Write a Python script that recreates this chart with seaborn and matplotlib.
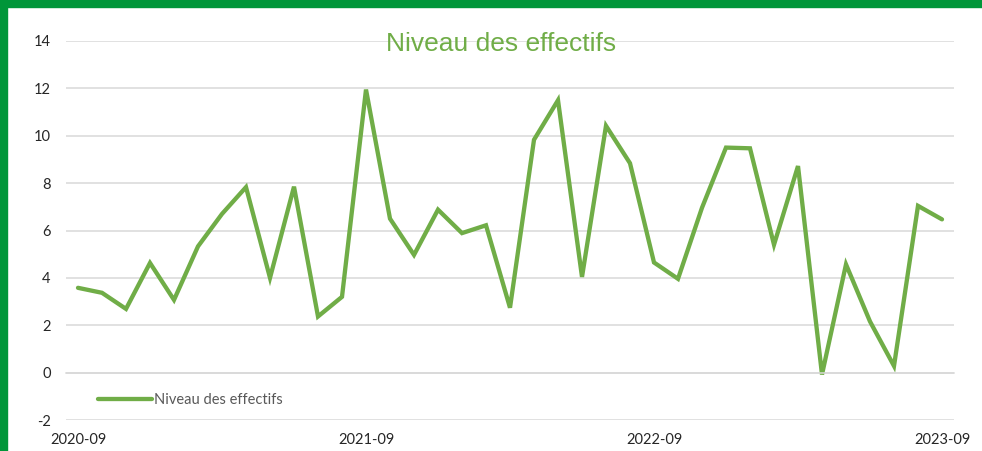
import seaborn as sns
import matplotlib.pyplot as plt
import pandas as pd
import numpy as np
from matplotlib.patches import Rectangle

# monthly values, 2020-09 .. 2023-09
months = pd.period_range("2020-09", "2023-09", freq="M").strftime("%Y-%m").tolist()
values = [3.58, 3.37, 2.69, 4.63, 3.07, 5.33, 6.7, 7.83, 4.0, 7.85,
          2.37, 3.2, 11.95, 6.5, 4.97, 6.88, 5.89, 6.22, 2.74, 9.83,
          11.5, 4.04, 10.42, 8.84, 4.65, 3.96, 6.96, 9.5, 9.47, 5.4,
          8.72, -0.08, 4.57, 2.16, 0.28, 7.04, 6.47]
label_months = ["2020-09", "2021-09", "2022-09", "2023-09"]
series_name = "Niveau des effectifs"

green = "#70AD47"
grid_col = "#D9D9D9"
txt_col = "#262626"

df = pd.DataFrame({"mois": months, "valeur": values})
df["pos"] = np.arange(len(df))

sns.set_style("white")
plt.rcParams["font.family"] = ["Lato", "DejaVu Sans"]
plt.rcParams["axes.unicode_minus"] = False

fig = plt.figure(figsize=(9.82, 4.51), dpi=100)
ax = fig.add_axes([66 / 982, 31 / 451, 888 / 982, 379 / 451])

sns.lineplot(data=df, x="pos", y="valeur", color=green, linewidth=3.1,
             label=series_name, ax=ax, solid_joinstyle="miter")

ax.set_ylim(-2, 14)
ax.set_xlim(-0.5, len(df) - 0.5)
ax.set_yticks(np.arange(-2, 15, 2))
ax.yaxis.grid(True, color=grid_col, linewidth=1.1)
ax.set_axisbelow(True)
for s in ["top", "right", "left"]:
    ax.spines[s].set_visible(False)

# category axis crosses at zero, tick marks on category boundaries
ax.spines["bottom"].set_position(("data", 0))
ax.spines["bottom"].set_color(grid_col)
ax.spines["bottom"].set_linewidth(1.1)
ax.set_xticks(np.arange(-0.5, len(df), 12))
ax.tick_params(axis="x", length=5, width=1.1, color=grid_col, labelbottom=False)
ax.tick_params(axis="y", length=0, labelsize=10.5, labelcolor=txt_col, pad=11)
ax.set_xlabel("")
ax.set_ylabel("")

# labels sit low, under the -2 line
sec = ax.secondary_xaxis(0)
sec.set_xticks([months.index(m) for m in label_months])
sec.set_xticklabels(label_months)
sec.tick_params(length=0, labelsize=10.5, labelcolor=txt_col, pad=9)
sec.spines["bottom"].set_visible(False)

leg = ax.legend(loc="center left", bbox_to_anchor=(0.029, 0.053), frameon=False,
                fontsize=10.5, handlelength=3.7, handletextpad=0.2, borderaxespad=0)
for t in leg.get_texts():
    t.set_color("#595959")

fig.text(501 / 982, 1 - 44 / 451, "Niveau des effectifs", color=green,
         fontsize=19, ha="center", va="center", family=["Liberation Sans", "DejaVu Sans"])

# green frame on top and left edges
fig.patches.append(Rectangle((0, 1 - 6.5 / 451), 1, 6.5 / 451, transform=fig.transFigure,
                             color="#009639", zorder=10))
fig.patches.append(Rectangle((0, 0), 6.5 / 982, 1, transform=fig.transFigure,
                             color="#009639", zorder=10))

fig.savefig("out.png", dpi=100)
